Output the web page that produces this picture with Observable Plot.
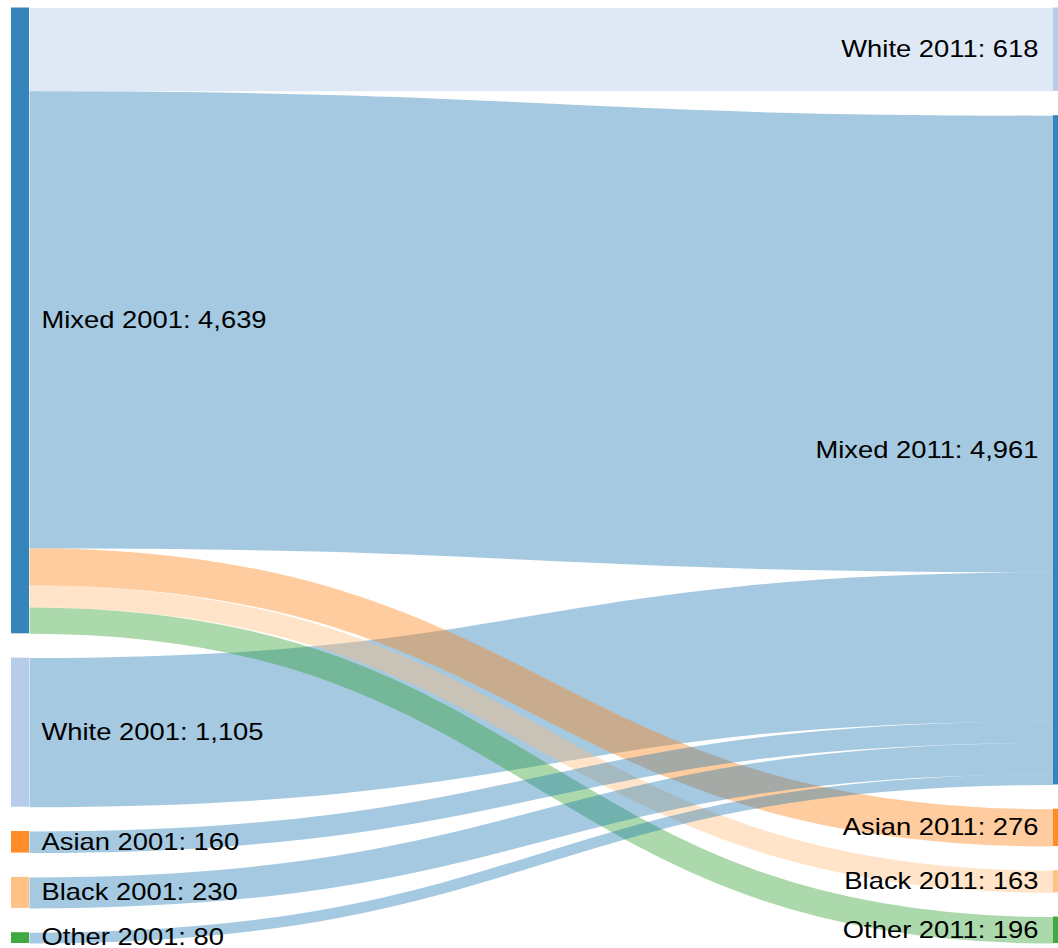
<!DOCTYPE html>
<html>
<head>
<meta charset="utf-8">
<script src="https://cdn.jsdelivr.net/npm/d3@7"></script>
<script src="https://cdn.jsdelivr.net/npm/@observablehq/plot@0.6"></script>
<style>
  html, body { margin: 0; padding: 0; background: #fff; overflow: hidden; }
  #chart svg { display: block; }
</style>
</head>
<body>
<div id="chart"></div>
<script>
// ---- data ----
const categories = ["Mixed", "White", "Asian", "Black", "Other"];
const categoryColors = ["#1f77b4", "#aec7e8", "#ff7f0e", "#ffbb78", "#2ca02c"];
const years = ["2001", "2011"];
const order2001 = ["Mixed", "White", "Asian", "Black", "Other"];
const order2011 = ["White", "Mixed", "Asian", "Black", "Other"];
const linkSource = ["White", "Mixed", "Mixed", "Mixed", "Mixed", "Mixed", "Asian", "Black", "Other"];
const linkTarget = ["Mixed", "White", "Mixed", "Asian", "Black", "Other", "Mixed", "Mixed", "Mixed"];
const linkValue  = [1105, 618, 3386, 276, 163, 196, 160, 230, 80];

// ---- layout constants (pixels) ----
const W = 1058, H = 948;
const yTop = 7.5, yBottom = 943, nodePad = 24.3;
const xLeft = 11, xRight = 1053, nodeW = 18;
const labelStretch = 1.19;

// ---- sankey layout in value units ----
const links = linkValue.map((v, i) => ({source: linkSource[i], target: linkTarget[i], value: v}));
const total = d3.sum(linkValue);
const k = (yBottom - yTop - (order2001.length - 1) * nodePad) / total; // px per unit
const gapU = nodePad / k;
const yMax = total + (order2001.length - 1) * gapU;
const nodeWU = nodeW / (xRight - xLeft);

function column(order, col, key) {
  let y = 0;
  return order.map(name => {
    const value = d3.sum(links.filter(l => l[key] === name), l => l.value);
    const n = {name, col, year: years[col], value, y0: y, y1: y + value};
    y += value + gapU;
    return n;
  });
}
const left = column(order2001, 0, "source");
const right = column(order2011, 1, "target");

// outgoing offsets sorted by target position
for (const n of left) {
  let y = n.y0;
  links.filter(l => l.source === n.name)
    .sort((a, b) => order2011.indexOf(a.target) - order2011.indexOf(b.target))
    .forEach(l => { l.sy = y + l.value / 2; y += l.value; });
}
// incoming offsets sorted by source position
for (const n of right) {
  let y = n.y0;
  links.filter(l => l.target === n.name)
    .sort((a, b) => order2001.indexOf(a.source) - order2001.indexOf(b.source))
    .forEach(l => { l.ty = y + l.value / 2; y += l.value; });
}
const nodes = [...left, ...right];
const fmt = d3.format(",");

const chart = Plot.plot({
  width: W,
  height: H,
  margin: 0,
  style: {fontFamily: "'Liberation Sans', Arial, Helvetica, sans-serif", background: "#fff"},
  x: {domain: [0, 1], range: [xLeft, xRight], axis: null},
  y: {domain: [0, yMax], range: [yTop, yBottom], axis: null},
  color: {domain: categories, range: categoryColors},
  marks: [
    Plot.link(links, {
      x1: () => nodeWU, y1: "sy", x2: () => 1, y2: "ty",
      curve: "bump-x",
      stroke: "target", strokeOpacity: 0.4,
      strokeWidth: d => d.value * k, strokeLinecap: "butt"
    }),
    Plot.rect(nodes, {
      x1: "col", x2: d => d.col + nodeWU, y1: "y0", y2: "y1",
      fill: "name", fillOpacity: 0.9, clip: true
    }),
    Plot.text(left, {
      x: () => nodeWU, y: d => (d.y0 + d.y1) / 2,
      text: d => `${d.name} ${d.year}: ${fmt(d.value)}`,
      textAnchor: "start", dx: 12, fontSize: 23, fill: "#000"
    }),
    Plot.text(right, {
      x: () => 1, y: d => (d.y0 + d.y1) / 2,
      text: d => `${d.name} ${d.year}: ${fmt(d.value)}`,
      textAnchor: "end", dx: -15, fontSize: 23, fill: "#000"
    })
  ]
});

// the reference's labels are horizontally stretched
chart.querySelectorAll("text").forEach(t => {
  const tr = t.getAttribute("transform");
  if (tr && tr.includes("translate")) {
    t.setAttribute("transform", tr + ` scale(${labelStretch},1)`);
  } else {
    const x = +t.getAttribute("x") || 0, y = +t.getAttribute("y") || 0;
    t.removeAttribute("x"); t.removeAttribute("y");
    t.setAttribute("transform", `translate(${x},${y}) scale(${labelStretch},1)`);
  }
});
document.getElementById("chart").appendChild(chart);
</script>
</body>
</html>
